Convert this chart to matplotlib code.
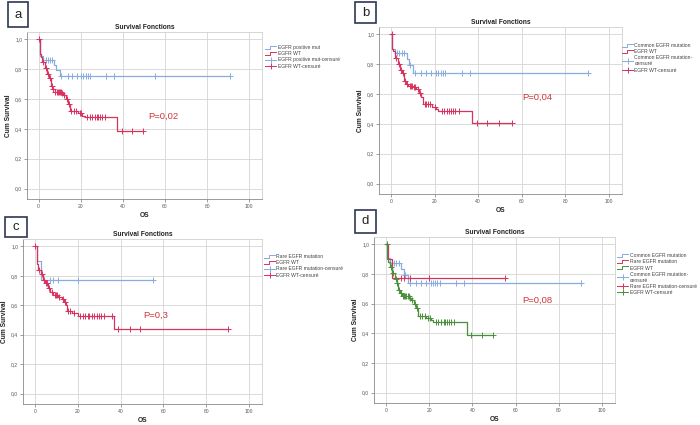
import numpy as np
import matplotlib.pyplot as plt
from matplotlib.lines import Line2D
from matplotlib.patches import Rectangle
from matplotlib.legend_handler import HandlerBase

plt.rcParams['font.family'] = ['Liberation Sans', 'DejaVu Sans']

# ---- Kaplan-Meier data (time in months, survival) ----
# EGFR WT, panels a and d
wt_a_time = [0, 0.5, 1.0, 1.7, 3.0, 4.0, 5.0, 5.8, 6.5, 7.6, 10.8, 11.6, 12.9, 14.0, 14.8, 18.7, 20.8, 21.9, 37.3]
wt_a_surv = [1.0, 0.90, 0.88, 0.85, 0.81, 0.77, 0.74, 0.69, 0.67, 0.65, 0.64, 0.625, 0.60, 0.57, 0.52, 0.505, 0.49, 0.478, 0.387]
wt_a_end = 49.4
wt_a_cens = [0.3, 2.2, 3.5, 4.5, 5.3, 6.2, 7.0, 7.8, 8.5, 9.0, 9.5, 10.0, 10.5, 11.2, 12.2, 13.5, 14.4,
             15.6, 16.7, 17.9, 19.5, 20.3, 23.0, 24.3, 25.5, 26.7, 27.5, 28.4, 29.0, 29.9, 31.4, 39.4, 44.3, 49.4]

# EGFR WT, panel b
wt_b_time = [0, 0.6, 1.0, 1.8, 3.0, 4.0, 5.0, 6.0, 6.8, 8.0, 10.0, 11.5, 12.8, 14.0, 14.8, 19.0, 20.5, 21.5, 37.2]
wt_b_surv = [1.0, 0.90, 0.89, 0.845, 0.80, 0.76, 0.74, 0.69, 0.67, 0.655, 0.645, 0.635, 0.61, 0.58, 0.531, 0.515, 0.50, 0.49, 0.405]
wt_b_end = 55.3
wt_b_cens = [0.3, 2.2, 3.5, 4.5, 5.3, 6.4, 7.2, 8.5, 9.0, 9.5, 10.5, 11.0, 12.2, 13.5, 15.5, 16.0, 17.0,
             18.0, 20.0, 23.4, 24.5, 25.5, 26.5, 27.5, 28.5, 29.5, 31.0, 39.5, 44.0, 49.4, 55.3]

# EGFR WT, panel c
wt_c_time = [0, 1.0, 1.7, 2.9, 3.7, 4.7, 6.0, 7.2, 8.7, 10.8, 12.5, 13.6, 14.7, 15.2, 17.4, 20.0, 36.8]
wt_c_surv = [1.0, 0.88, 0.84, 0.81, 0.775, 0.75, 0.715, 0.69, 0.67, 0.655, 0.64, 0.625, 0.60, 0.56, 0.545, 0.527, 0.44]
wt_c_end = 90.0
wt_c_cens = [0.3, 2.0, 3.3, 4.2, 5.2, 5.6, 6.6, 8.0, 9.2, 9.8, 10.3, 11.5, 13.0, 14.2, 15.7, 16.3, 18.5,
             21.2, 22.4, 23.5, 24.6, 25.5, 26.6, 27.6, 28.9, 29.9, 31.1, 32.2, 36.0, 39.0, 44.2, 49.0, 90.0]

# EGFR positive mutation (all), panel a
mut_time = [0, 0.5, 1.9, 7.1, 8.1, 10.0]
mut_surv = [1.0, 0.89, 0.864, 0.826, 0.797, 0.752]
mut_end = 90.6
mut_cens = [3.5, 4.5, 5.5, 6.5, 10.8, 14.0, 16.0, 18.0, 20.0, 21.0, 22.5, 23.5, 24.5, 32.0, 36.0, 55.4, 90.6]

# Common EGFR mutation, panels b and d
common_time = [0, 0.6, 1.8, 7.2, 8.3, 10.3]
common_surv = [1.0, 0.905, 0.875, 0.835, 0.795, 0.743]
common_end = 90.5
common_cens = [2.6, 3.8, 4.9, 6.0, 8.8, 11.0, 13.8, 16.1, 18.4, 20.7, 21.8, 22.9, 23.8, 24.9, 32.6, 36.1, 90.5]

# Rare EGFR mutation, panels c and d
rare_time = [0, 1.2, 3.0]
rare_surv = [1.0, 0.90, 0.773]
rare_end = 55.3
rare_cens = [7.2, 8.5, 11.0, 20.0, 55.3]

p_values = ['P=0,02', 'P=0,04', 'P=0,3', 'P=0,08']
p_pos = [(52, 0.47), (60.4, 0.564), (50.7, 0.513), (63, 0.607)]
letters = ['a', 'b', 'c', 'd']

BLUE = '#86ace0'
RED = '#d8335e'
GREEN = '#4a8f3c'
W, H = 700, 425


class StepHandler(HandlerBase):
    # SPSS-like step glyph for the survival-line legend entries
    def create_artists(self, legend, orig, xd, yd, w, h, fs, trans):
        xs = np.array([0, 0.45, 0.45, 1.0]) * w - xd
        ys = np.array([0.1, 0.1, 0.9, 0.9]) * h - yd
        return [Line2D(xs, ys, color=orig.get_color(), lw=0.7, transform=trans)]


def frect(l, t, r, b):
    return [l / W, 1 - b / H, (r - l) / W, (b - t) / H]


def censor_y(times, surv, cens):
    idx = np.searchsorted(times, cens, side='right') - 1
    return np.asarray(surv)[idx]


fig = plt.figure(figsize=(7, 4.25), dpi=100)


def draw_panel(rect, curves, cens_labels, letter, letter_box, ptext, pxy, leg_xy):
    ax = fig.add_axes(frect(*rect))
    lines, marks = [], []
    for (t, s, end, cens, color, label), clab in zip(curves, cens_labels):
        ax.plot(list(t) + [end], list(s) + [s[-1]], drawstyle='steps-post', color=color, lw=0.9)
        ax.plot(cens, censor_y(t, s, cens), ls='none', marker='+', ms=3.8, mew=0.7, color=color)
        lines.append(Line2D([], [], color=color, label=label))
        marks.append(Line2D([], [], color=color, lw=0.7, marker='+', ms=5, mew=0.7, label=clab))

    ax.set_xlim(-5.5, 106)
    ax.set_ylim(-0.07, 1.05)
    ax.set_xticks(range(0, 101, 20))
    yt = np.arange(0, 1.01, 0.2)
    ax.set_yticks(yt)
    ax.set_yticklabels([f'{v:.1f}'.replace('.', ',') for v in yt])
    ax.grid(True, color='#d4d4d4', lw=0.6)
    ax.set_axisbelow(True)
    ax.tick_params(labelsize=3.6, length=2, width=0.5, colors='#777', labelcolor='#555', pad=1.5)
    for side in ['left', 'bottom']:
        ax.spines[side].set_color('#8a8a8a')
        ax.spines[side].set_linewidth(0.6)
    for side in ['top', 'right']:
        ax.spines[side].set_color('#d0d0d0')
        ax.spines[side].set_linewidth(0.6)

    ax.set_title('Survival Fonctions', fontsize=4.8, fontweight='bold', pad=2.5, color='#222')
    ax.set_xlabel('OS', fontsize=4.8, fontweight='bold', labelpad=2, color='#222')
    ax.set_ylabel('Cum Survival', fontsize=4.8, fontweight='bold', labelpad=2.5, color='#222')
    ax.text(pxy[0], pxy[1], ptext, color='#d0343a', fontsize=6.8)

    handles = lines + marks
    leg = fig.legend(handles=handles, loc='upper left',
                     bbox_to_anchor=(leg_xy[0] / W, 1 - leg_xy[1] / H),
                     frameon=False, fontsize=3.6, handlelength=2.2, handletextpad=0.3,
                     labelspacing=0.25, borderaxespad=0, numpoints=1,
                     handler_map={h: StepHandler() for h in lines})
    for txt in leg.get_texts():
        txt.set_color('#444')

    l, t, r, b = letter_box
    fig.patches.append(Rectangle((l / W, 1 - b / H), (r - l) / W, (b - t) / H,
                                 transform=fig.transFigure, fill=False,
                                 edgecolor='#2c3753', lw=1.2))
    fig.text((l + r) / 2 / W, 1 - (t + b) / 2 / H, letter, ha='center', va='center',
             fontsize=9.5, color='#222')


draw_panel((27, 32, 262, 199),
           [(mut_time, mut_surv, mut_end, mut_cens, BLUE, 'EGFR positive mut'),
            (wt_a_time, wt_a_surv, wt_a_end, wt_a_cens, RED, 'EGFR WT')],
           ['EGFR positive mut-censuré', 'EGFR WT-censuré'],
           letters[0], (8, 2, 28, 27), p_values[0], p_pos[0], (263, 43))

draw_panel((379, 27, 622, 194),
           [(common_time, common_surv, common_end, common_cens, BLUE, 'Common EGFR mutation'),
            (wt_b_time, wt_b_surv, wt_b_end, wt_b_cens, RED, 'EGFR WT')],
           ['Common EGFR mutation-\ncensuré', 'EGFR WT-censuré'],
           letters[1], (355, 2, 376, 23), p_values[1], p_pos[1], (620, 41))

draw_panel((23, 239, 262, 404),
           [(rare_time, rare_surv, rare_end, rare_cens, BLUE, 'Rare EGFR mutation'),
            (wt_c_time, wt_c_surv, wt_c_end, wt_c_cens, RED, 'EGFR WT')],
           ['Rare EGFR mutation-censuré', 'EGFR WT-censuré'],
           letters[2], (5, 217, 27, 237), p_values[2], p_pos[2], (262, 252))

draw_panel((374, 237, 615, 403),
           [(common_time, common_surv, common_end, common_cens, BLUE, 'Common EGFR mutation'),
            (rare_time, rare_surv, rare_end, rare_cens, RED, 'Rare EGFR mutation'),
            (wt_a_time, wt_a_surv, wt_a_end, wt_a_cens, GREEN, 'EGFR WT')],
           ['Common EGFR mutation-\ncensuré', 'Rare EGFR mutation-censuré', 'EGFR WT-censuré'],
           letters[3], (355, 210, 376, 233), p_values[3], p_pos[3], (615, 251))

fig.savefig('out.png', dpi=100, facecolor='white')
